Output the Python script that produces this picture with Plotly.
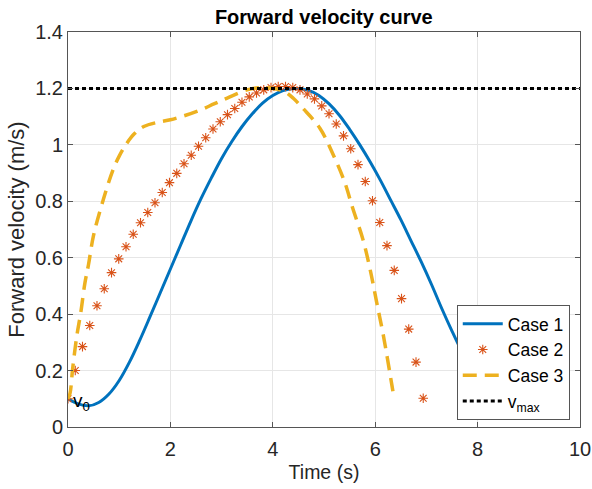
import plotly.graph_objects as go

# ---- data ----
case1_t = [0.0, 0.2, 0.4, 0.6, 0.8, 1.0, 1.2, 1.4, 1.6, 1.8, 2.0, 2.2, 2.4, 2.6, 2.8, 3.0,
           3.2, 3.4, 3.6, 3.8, 4.0, 4.2, 4.45, 4.7, 4.9, 5.1, 5.3, 5.5, 5.7, 5.9, 6.1, 6.3,
           6.5, 6.7, 6.9, 7.1, 7.3, 7.5, 7.7, 7.9, 8.1, 8.3, 8.5, 8.7]
case1_v = [0.10, 0.082, 0.075, 0.087, 0.117, 0.165, 0.23, 0.307, 0.39, 0.475, 0.56, 0.645,
           0.73, 0.81, 0.883, 0.952, 1.012, 1.065, 1.11, 1.148, 1.175, 1.192, 1.2, 1.193,
           1.175, 1.145, 1.105, 1.055, 1.0, 0.94, 0.875, 0.805, 0.735, 0.66, 0.585, 0.505,
           0.42, 0.34, 0.265, 0.20, 0.15, 0.115, 0.095, 0.09]

case2_t = [0.0, 0.142, 0.283, 0.425, 0.566, 0.708, 0.85, 0.991, 1.133, 1.274, 1.416, 1.558,
           1.699, 1.841, 1.982, 2.124, 2.266, 2.407, 2.549, 2.69, 2.832, 2.974, 3.115, 3.257,
           3.398, 3.54, 3.682, 3.823, 3.965, 4.106, 4.248, 4.39, 4.531, 4.673, 4.814, 4.956,
           5.098, 5.239, 5.381, 5.522, 5.664, 5.806, 5.947, 6.089, 6.23, 6.372, 6.514, 6.655,
           6.797, 6.938]
case2_v = [0.10, 0.20, 0.285, 0.36, 0.43, 0.49, 0.547, 0.596, 0.639, 0.683, 0.724, 0.76,
           0.795, 0.831, 0.866, 0.899, 0.933, 0.963, 0.995, 1.025, 1.056, 1.082, 1.107, 1.129,
           1.151, 1.17, 1.184, 1.195, 1.203, 1.207, 1.207, 1.203, 1.195, 1.18, 1.163, 1.138,
           1.11, 1.074, 1.032, 0.986, 0.93, 0.87, 0.802, 0.725, 0.643, 0.555, 0.455, 0.347,
           0.23, 0.102]

case3_t = [0.0, 0.04, 0.09, 0.17, 0.25, 0.33, 0.4, 0.5, 0.69, 0.88, 1.0, 1.15, 1.3, 1.48,
           1.75, 2.0, 2.3, 2.59, 2.85, 3.11, 3.5, 3.76, 4.0, 4.22, 4.4, 4.59, 4.92, 5.18, 5.4,
           5.56, 5.76, 5.9, 6.03, 6.16, 6.33, 6.37]
case3_v = [0.10, 0.12, 0.205, 0.32, 0.406, 0.51, 0.575, 0.68, 0.806, 0.912, 0.96, 1.006,
           1.04, 1.065, 1.08, 1.089, 1.105, 1.124, 1.145, 1.166, 1.195, 1.203, 1.2, 1.19,
           1.165, 1.129, 1.059, 0.965, 0.87, 0.776, 0.665, 0.559, 0.441, 0.324, 0.144, 0.10]

vmax_t = [0, 10]
vmax_v = [1.2, 1.2]

x_ticks = [0, 2, 4, 6, 8, 10]
y_ticks = [0, 0.2, 0.4, 0.6, 0.8, 1.0, 1.2, 1.4]
y_ticklabels = ["0", "0.2", "0.4", "0.6", "0.8", "1", "1.2", "1.4"]

FONT = "Liberation Sans, Arial, Helvetica, sans-serif"
TXT = "#262626"

fig = go.Figure()
fig.add_trace(go.Scatter(x=case1_t, y=case1_v, mode="lines", name="Case 1",
                         line=dict(color="#0072BD", width=3), line_shape="spline"))
fig.add_trace(go.Scatter(x=case2_t, y=case2_v, mode="markers", name="Case 2",
                         marker=dict(symbol="asterisk-open", size=8, color="#D95319",
                                     line=dict(color="#D95319", width=1.1))))
fig.add_trace(go.Scatter(x=case3_t, y=case3_v, mode="lines", name="Case 3",
                         line=dict(color="#EDB120", width=3.5, dash="14px,8px"),
                         line_shape="spline"))
fig.add_trace(go.Scatter(x=vmax_t, y=vmax_v, mode="lines", name="v<sub>max</sub>",
                         line=dict(color="black", width=3, dash="4px,3px")))

fig.add_annotation(x=0.06, y=0.1, xref="x", yref="y", text="v<sub>0</sub>",
                   showarrow=False, xanchor="left", yanchor="middle",
                   font=dict(family=FONT, size=19, color="black"), yshift=-3)

axis_common = dict(showgrid=True, gridcolor="#e6e6e6", gridwidth=1,
                   showline=True, linecolor="#555555", linewidth=1, mirror="ticks",
                   ticks="inside", ticklen=5, tickcolor="#555555", zeroline=False,
                   automargin=False,
                   tickfont=dict(family=FONT, size=20, color=TXT))

fig.update_layout(
    width=592, height=489,
    margin=dict(l=68, r=12, t=32, b=62),
    paper_bgcolor="white", plot_bgcolor="white",
    title=dict(text="<b>Forward velocity curve</b>", x=0.547, xanchor="center",
               y=0.966, yanchor="middle",
               font=dict(family=FONT, size=20, color="black")),
    xaxis=dict(range=[0, 10], tickvals=x_ticks, ticklabelstandoff=4,
               title=dict(text="Time (s)", font=dict(family=FONT, size=19.5, color=TXT), standoff=6),
               **axis_common),
    yaxis=dict(range=[0, 1.4], tickvals=y_ticks, ticktext=y_ticklabels,
               title=dict(text="Forward velocity (m/s)", font=dict(family=FONT, size=22, color=TXT), standoff=4),
               **axis_common),
    legend=dict(x=0.98, y=0.018, xanchor="right", yanchor="bottom",
                bgcolor="white", bordercolor="#555555", borderwidth=1,
                font=dict(family=FONT, size=17.5, color="black"),
                tracegroupgap=0, itemwidth=40),
    showlegend=True,
)

fig.write_html("out.html")
